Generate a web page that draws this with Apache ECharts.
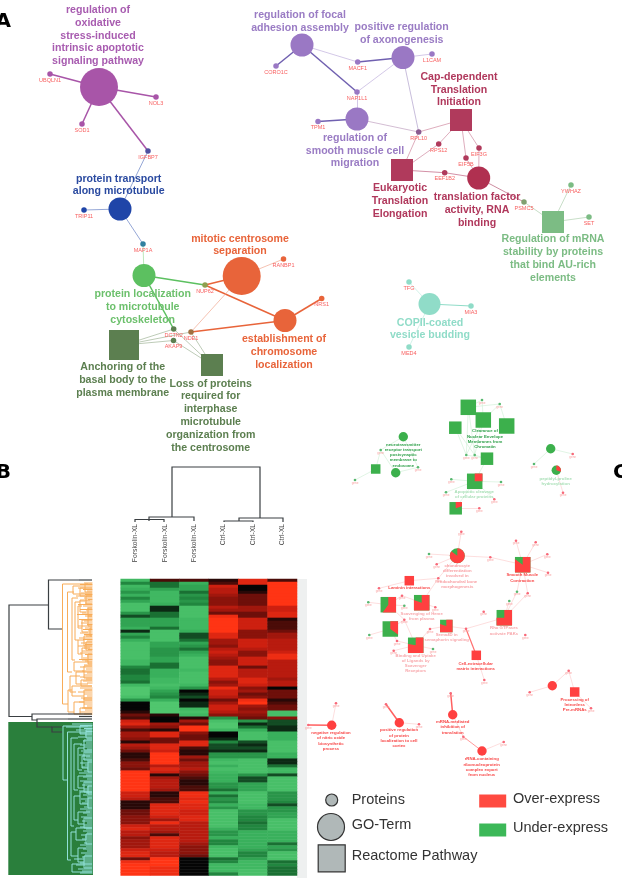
<!DOCTYPE html>
<html><head><meta charset="utf-8">
<style>html,body{margin:0;padding:0;background:#fff;overflow:hidden}#c{width:622px;height:878px;filter:blur(0.45px)}</style>
<script src="https://cdn.jsdelivr.net/npm/echarts@6/dist/echarts.min.js"></script>
</head><body><div id="c"></div>
<script>
// ---------- Panel B heatmap ----------
const sampleLabels = ['Forskolin-XL','Forskolin-XL','Forskolin-XL','Ctrl-XL','Ctrl-XL','Ctrl-XL'];
const forskolin1 = [-8,-4,-8,-7,-5,-7,-4,-6,-9,-9,-9,-5,-2,-6,-6,-6,-7,-1,-6,-4,-7,-9,-9,-9,-9,-9,-9,-8,-8,-4,-3,-3,-4,
-4,-3,-8,-10,-10,-10,-9,-5,0,0,0,1,3,2,7,8,5,2,5,5,4,1,6,5,3,1,1,2,4,4,3,10,10,
10,10,10,10,10,7,7,6,1,1,1,3,3,4,4,4,7,8,6,6,4,5,5,5,7,8,8,3,9,10,10,10,10];
const forskolin2 = [2,-3,-3,-6,-8,-8,-8,-8,-7,-1,-1,-3,-3,-6,-6,-6,-3,-9,-9,-9,-9,-6,-6,-5,-5,-5,-6,-6,-3,-3,-7,-7,-7,
-8,-8,-9,-8,-6,-5,-4,-7,-10,-10,-10,-10,1,0,0,5,4,1,8,8,3,3,8,8,7,10,10,10,10,6,8,7,1,
5,6,6,6,5,1,1,2,2,8,8,8,8,7,5,9,6,6,5,2,8,8,8,8,7,6,6,10,10,10,9,9,9];
const forskolin3 = [2,-7,-6,-6,-3,-5,-4,-5,-4,-9,-9,-9,-9,-8,-8,-8,-8,-7,-2,-2,-3,-6,-5,-3,-6,-7,-9,-9,-9,-9,-8,-9,-9,
-9,-9,-8,-5,0,-1,-2,0,-1,-1,-8,-9,-8,1,5,3,10,10,4,3,3,8,8,2,1,1,5,3,5,5,6,4,3,
2,1,1,2,2,9,9,8,9,8,8,7,7,8,8,6,6,6,6,6,6,6,5,4,4,4,3,0,0,0,0,0,0];
const ctrl1 = [1,2,7,6,6,5,4,4,4,6,5,3,9,10,10,10,10,10,8,8,5,5,4,6,7,6,5,4,4,8,8,8,8,
6,4,5,9,7,7,6,3,5,7,7,6,4,-5,-9,-10,-10,-8,0,0,-1,-4,-2,-2,-1,-5,-5,-8,-9,-7,-9,-8,-7,
-7,-7,-5,-5,-3,-7,-3,-5,-4,-7,-5,-9,-9,-9,-9,-9,-9,-7,-5,-5,-7,-4,-4,-8,-9,-9,-9,-3,-4,-8,-8,-8,-4];
const ctrl2 = [8,8,0,0,1,3,3,3,3,5,5,3,3,7,7,7,7,4,4,4,7,7,7,6,4,4,7,7,7,3,6,6,6,
8,8,7,4,5,3,4,9,10,5,4,5,4,3,-5,-1,-3,-7,-9,-9,-9,-2,-1,-2,-1,-5,-5,-9,-9,-9,-9,-9,-5,
-2,-2,-6,-6,-6,-9,-9,-9,-9,-8,-8,-5,-5,-4,-4,-3,-4,-4,-7,-7,-7,-7,-7,-7,-6,-4,-4,-6,-8,-8,-8,-9,-9];
const ctrl3 = [2,10,10,10,10,10,10,10,10,7,7,8,8,1,2,2,2,3,5,5,6,6,6,6,7,9,9,6,6,6,6,6,6,
5,6,6,0,3,3,3,1,2,3,3,-9,-9,4,-2,-2,-1,-1,-7,-7,-7,-9,-9,-9,-9,-7,-7,-1,-1,-3,-8,-8,-2,
-9,-9,-9,-9,-9,-5,-5,-5,-4,-2,-5,-5,-6,-6,-9,-9,-9,-9,-7,-7,-7,-7,-3,-6,-5,-9,-9,-9,-3,-4,-3,-3,-3];

// ---------- Dendrograms: [branch x, y1, y2, end x1, end x2] ----------
const orangeBranches = [
[62.5,584,704,88,68],[67.5,592,672,74,72],[72,598,660,78,75],[75,602,640,80,78],[78,606,628,82,82],
[80,600,612,90,86],[86,596,604,92,92],[88,608,616,92,92],[82,620,632,92,88],[88,616,626,92,92],
[90,628,636,92,92],[78,640,654,84,82],[84,636,646,92,92],[82,648,660,90,88],[88,654,664,92,92],
[74,662,671,92,84],[84,666,678,92,92],[68,690,712,72,74],[72,686,696,92,84],[84,690,700,92,92],
[74,702,714,84,80],[84,698,708,92,92],[80,708,714,92,92],[70,676,692,80,76],[76,672,684,92,88],
[80,588,596,92,92],[73,586,594,86,92],[85,584,592,92,92],[81,680,686,92,92],[86,642,650,92,92]];
const orangeLeaves = [ // y, start x
[583,84],[584.5,80],[586,86],[588,78],[589.5,83],[591,87],[593,81],[594.5,85],[596,76],[598,84],[599.5,88],[601,80],[603,85],[604.5,78],[606,83],[608,87],
[609.5,80],[611,86],[613,82],[614.5,77],[616,85],[618,88],[619.5,79],[621,84],[623,81],[624.5,87],[626,78],[628,85],[629.5,83],[631,88],[633,80],[634.5,84],
[636,86],[638,79],[639.5,83],[641,87],[643,81],[644.5,85],[646,78],[648,84],[649.5,88],[651,82],[653,80],[654.5,85],[656,87],[658,83],[659.5,79],[661,85],
[663,88],[665,84],[667,80],[669,86],[671,82],[673,87],[675,84],[677,80],[679,86],[681,83],[683,87],[688,80],[690,85],[692,78],[694,84],[696,87],[698,81],
[700,85],[702,79],[704,84],[706,87],[708,82],[710,85],[712,80],[714,84]];
const cyanBranches = [
[63,726,780,88,68],[67.5,732,860,92,71],[71,738,826,78,74],[74,744,790,82,78],[78,748,770,84,82],
[84,740,750,92,92],[82,756,768,90,88],[88,762,772,92,92],[78,776,788,92,84],[84,782,792,92,92],
[74,796,820,80,78],[80,792,804,92,88],[88,798,808,92,92],[78,812,824,90,84],[84,818,828,92,92],
[71,832,856,76,78],[76,828,840,92,86],[86,834,844,92,92],[78,848,862,86,84],[84,856,868,92,92],
[72,864,872,92,92],[80,726,734,92,92],[86,730,738,92,92],[84,752,760,92,92],[88,786,794,92,92]];
const cyanLeaves = [ // y, start x
[724,72],[725.5,80],[727,66],[728.5,84],[730,76],[731.5,86],[733,80],[735,85],[737,78],[739,87],[741,83],[743,86],[745,80],[747,84],[749,87],[751,81],
[753,85],[755,79],[757,86],[759,83],[761,87],[763,80],[765,85],[767,82],[769,87],[771,84],[773,79],[775,86],[777,83],[779,87],[781,80],[783,85],
[785,82],[787,87],[789,84],[791,79],[793,86],[795,83],[797,87],[799,81],[801,85],[803,82],[805,87],[807,84],[809,80],[811,86],[813,83],[815,87],
[817,81],[819,85],[821,82],[823,87],[825,84],[827,80],[829,86],[831,83],[833,87],[835,81],[837,85],[839,82],[841,87],[843,84],[845,80],[847,86],
[849,83],[851,87],[853,81],[855,85],[857,82],[859,74],[861,84],[863,80],[865,76],[867,85],[869,78],[871,82],[873,80]];
const blackBranches = [
[9,605,716.5,48.5,32],[48.5,580,629,79,62],[32,714,720,68,37],[37,719,727,68,52],[52,727,732,62,62]];
const heavyStubs = [ // dark stubs beside the heat map
[[79,580],[92,580]],[[68,714],[92,714]],[[68,719],[92,719]],[[79,716.5],[92,716.5]]];
const sampleTree = [ // polylines above the heat map
[[172,517],[172,467],[260,467],[260,518]],
[[149,521],[149,517],[194,517],[194,521]],
[[135,522],[135,519.5],[164,519.5],[164,522]],
[[239,521],[239,518],[283,518],[283,522]],
[[224,522],[224,521],[253,521],[253,522]]];

// ---------- Panel A network ----------
const purple='#a855a8',blue='#1f45a8',lilac='#9a78c4',crimson='#b03a5c',sage='#7cbc84',orange='#e8643a',leaf='#5cc060',moss='#5c7f50',mint='#90dcc8';
const termsA = [ // id, x, y, size, shape, colour
['oxi',99,87,38,'circle',purple],['trans',120,209,23,'circle',blue],['focal',302,45,23,'circle',lilac],
['axon',403,57.5,23,'circle',lilac],['smooth',357,119,23,'circle',lilac],['cap',461,120,22,'rect',crimson],
['euk',402,170,22,'rect',crimson],['tf',478.7,178,23,'circle','#b03050'],['mrna',553,222,22,'rect',sage],
['mitotic',241.7,276,38,'circle',orange],['estab',285,320.5,23,'circle',orange],['ploc',144,275.5,23,'circle',leaf],
['anchor',124,345,30,'rect',moss],['loss',212,365,22,'rect',moss],['copii',429.5,304,22,'circle',mint]];
const proteinsA = [ // label, x, y, colour
['UBQLN1',50,74,purple],['SOD1',82,124,purple],['NOL3',156,97,purple],['IGFBP7',148,151,'#5050a0'],['TRIP11',84,210,blue],
['MAP1A',143,244,'#3080a0'],['CORO1C',276,66,lilac],['MACF1',357.7,62,lilac],['NAP1L1',357,92,lilac],['L1CAM',432,54,lilac],
['TPM1',318,121.5,lilac],['RPL10',418.7,132,'#8a5a90'],['RPS12',438.7,144,crimson],['EIF3G',479,148,crimson],['EIF5B',466,158,crimson],
['EEF1B2',444.7,172.7,crimson],['PSMC5',524,202,'#80a070'],['YWHAZ',571,185,sage],['SET',589,217,sage],['NUP62',205,285,'#90a050'],
['RANBP1',283.5,259,orange],['NRS1',321.7,298.5,orange],['DCTN2',173.7,329,moss],['NDE1',191,332,'#a07040'],['AKAP9',173.5,340.5,moss],
['TFG',409,282,mint],['MIA3',471,306,mint],['MED4',409,347,mint]];
const edgesA = [ // from, to, width, colour
['oxi','UBQLN1',1.5,purple],['oxi','SOD1',1.5,purple],['oxi','NOL3',1.5,purple],['oxi','IGFBP7',1.5,purple],
['IGFBP7','trans',0.8,'#7a90cc'],['trans','TRIP11',0.8,'#7a90cc'],['trans','MAP1A',0.8,'#7a90cc'],['MAP1A','ploc',0.7,'#a0dca0'],
['ploc','NUP62',1.5,leaf],['ploc','DCTN2',1.5,leaf],['NUP62','mitotic',1.5,orange],['NUP62','estab',1.5,orange],
['mitotic','NDE1',0.7,'#f0a890'],['mitotic','RANBP1',0.7,'#f0a890'],['NDE1','estab',1.5,orange],['estab','NRS1',1.5,orange],
['anchor','DCTN2',0.7,'#a0b498'],['anchor','NDE1',0.7,'#a0b498'],['anchor','AKAP9',0.7,'#a0b498'],
['loss','DCTN2',0.7,'#a0b498'],['loss','NDE1',0.7,'#a0b498'],['loss','AKAP9',0.7,'#a0b498'],
['focal','CORO1C',1.5,'#7060b0'],['focal','MACF1',0.7,'#c0b0dc'],['focal','NAP1L1',1.5,'#7060b0'],['axon','MACF1',1.5,'#7060b0'],
['axon','NAP1L1',0.7,'#c0b0dc'],['axon','L1CAM',0.7,'#c0b0dc'],['axon','RPL10',0.7,'#b0a0cc'],['NAP1L1','smooth',0.7,'#c0b0dc'],
['smooth','TPM1',1.5,'#7060b0'],['smooth','RPL10',0.7,'#c0a0c0'],['RPL10','cap',0.7,'#d08aa0'],['RPL10','euk',0.7,'#d08aa0'],
['cap','RPS12',0.7,'#d08aa0'],['RPS12','euk',0.7,'#d08aa0'],['cap','EIF5B',0.7,'#d08aa0'],['cap','EIF3G',0.7,'#d08aa0'],
['EIF5B','tf',0.7,'#d08aa0'],['EIF3G','tf',0.7,'#d08aa0'],['euk','EEF1B2',0.7,'#c06080'],['EEF1B2','tf',0.7,'#c06080'],
['tf','PSMC5',0.8,'#c07088'],['PSMC5','mrna',0.7,'#b0d0b0'],['mrna','YWHAZ',0.7,'#b0d0b0'],['mrna','SET',0.7,'#b0d0b0'],
['copii','TFG',0.7,'#c0ece0'],['copii','MIA3',1.2,mint],['copii','MED4',0.7,'#c0ece0']];
const termLabels = [ // text, x, y, colour
['regulation of\noxidative\nstress-induced\nintrinsic apoptotic\nsignaling pathway',98,35.7,'#a85cb0'],
['protein transport\nalong microtubule',118.7,185,'#2a4aa0'],
['regulation of focal\nadhesion assembly',300,21.3,'#9a7cc4'],
['positive regulation\nof axonogenesis',401.7,33.8,'#9a7cc4'],
['Cap-dependent\nTranslation\nInitiation',459,89.7,'#b0385c'],
['regulation of\nsmooth muscle cell\nmigration',355,150.7,'#9a7cc4'],
['Eukaryotic\nTranslation\nElongation',400,201,'#b0385c'],
['translation factor\nactivity, RNA\nbinding',477,210,'#b0385c'],
['Regulation of mRNA\nstability by proteins\nthat bind AU-rich\nelements',553,258.5,'#7cbc84'],
['mitotic centrosome\nseparation',240,245,'#e8643a'],
['protein localization\nto microtubule\ncytoskeleton',142.7,307.3,'#6cc06c'],
['establishment of\nchromosome\nlocalization',284,352,'#e8643a'],
['Anchoring of the\nbasal body to the\nplasma membrane',122.7,380,'#5c7f50'],
['Loss of proteins\nrequired for\ninterphase\nmicrotubule\norganization from\nthe centrosome',210.7,415.7,'#5c7f50'],
['COPII-coated\nvesicle budding',430,329,'#90dcc8']];

// ---------- Panel C network ----------
const cGreen='#3cb04c',cRed='#ff4040';
const termsC = [ // id, x, y, size, shape, share of red (0 green, 1 red)
['s1',468.3,407.3,15.5,'rect',0],['s2',483.3,420,15.5,'rect',0],['s3',506.7,426,15.5,'rect',0],['s4',455.3,427.7,12.5,'rect',0],
['s5',487,458.7,12.5,'rect',0],['s6',474.7,481.3,15.5,'rect',0.25],['s7',455.7,508.3,12.5,'rect',0.2],['s8',375.7,469,9.5,'rect',0],
['g1',403.3,436.7,9.4,'circle',0],['g2',395.7,472.7,9.4,'circle',0],['g3',550.7,448.7,9.4,'circle',0],['g4',556.3,470.3,9.4,'circle',0.3],
['g5',457.3,555.7,15,'circle',0.85],['s9',522.7,564.7,15.5,'rect',0.85],['s10',409.3,580.7,9.5,'rect',1],['s11',388.3,604.7,15.5,'rect',0.6],
['s12',421.7,602.7,15.5,'rect',0.8],['s13',390.3,629,15.5,'rect',0.35],['s14',415.7,645.3,15.5,'rect',0.78],['s15',446.3,626,12.5,'rect',0.8],
['s16',504.3,617.7,15.5,'rect',0.75],['s17',476.3,655.3,9.5,'rect',1],['g6',331.7,725.3,9.4,'circle',1],['g7',399.3,722.7,9.4,'circle',1],
['g8',452.7,714.7,9.4,'circle',1],['g9',482,751,9.4,'circle',1],['g10',552.3,685.7,9.4,'circle',1],['s18',574.7,692,9.5,'rect',1]];
const genesC = [ // id, x, y, red or green
['a',482,400,0],['b',499.7,404,0],['c',466.3,455,0],['d',474.7,455,0],['e',380.7,450,0],['f',418,467.3,0],['h',355,480,0],['i',451.3,479.3,0],
['j',501,482,0],['k',446,492.3,0],['l',494.3,499.3,1],['m',479.3,508.3,1],['n',534,464,0],['o',572.7,454,1],['p',563,492.7,1],
['q',461.3,531.7,1],['r',429,554,0],['t',436.7,564.3,1],['u',490.3,557.3,1],['v',516,540.7,1],['w',535.7,542.3,1],['x',547.3,554.3,1],['y',548,572.7,1],
['z',517,591.7,0],['aa',527.7,593.3,1],['ab',509.3,601,0],['ac',483.7,611.7,1],['ad',525.3,635,1],['ae',466,628.7,1],['af',438.3,578.3,1],['ag',379,588.3,1],
['ah',402,595.7,1],['ai',368.3,602.3,0],['aj',404.3,605.7,0],['ak',435.3,607.3,1],['al',404.3,619.7,1],['am',369.3,635,0],['an',397,641,1],['ao',393.7,650.7,1],
['ap',433,649,0],['aq',430,629,1],['ar',484.3,680,1],['as',568.7,670.7,1],['at',529.7,692.3,1],['au',591,708.3,1],['av',336,703.3,1],['aw',308.3,725,1],
['ax',386,704.3,1],['ay',419,724.3,1],['az',450.7,693.3,1],['ba',463.3,736.7,1],['bb',503.7,742,1]];
const thinG='#cdeed4',thinR='#fcc8c8';
const edgesC = [ // from, to, width, colour
['s1','a',0.6,thinG],['s1','b',0.6,thinG],['s1','c',0.6,thinG],['s1','d',0.6,thinG],['s2','a',0.6,thinG],['s2','b',0.6,thinG],['s2','c',0.6,thinG],['s2','d',0.6,thinG],
['s3','b',0.6,thinG],['s4','c',0.6,thinG],['s4','d',0.6,thinG],['s5','c',0.6,thinG],['s5','d',0.6,thinG],['e','g1',0.6,thinG],['e','s8',0.6,thinG],['e','g2',0.6,thinG],
['f','g1',0.6,thinG],['f','g2',0.6,thinG],['h','s8',0.6,thinG],['s6','i',0.6,thinG],['s6','j',0.6,thinG],['s6','k',0.6,thinG],['s6','l',0.6,thinG],['s6','s7',0.6,thinG],
['s7','m',0.6,thinR],['g3','n',0.6,thinG],['g3','o',0.6,thinG],['g4','p',0.6,thinR],['s6','s5',0.6,thinG],
['g5','q',0.6,thinR],['g5','r',0.6,thinR],['g5','t',0.6,thinR],['g5','u',0.6,thinR],['u','s9',0.6,thinR],['s9','v',0.6,thinR],['s9','w',0.6,thinR],['s9','x',0.6,thinR],['s9','y',0.6,thinR],
['s9','z',0.6,thinR],['s9','aa',0.6,thinR],['aa','s16',0.6,thinR],['z','s16',0.6,thinR],['s16','ab',0.6,thinR],['s16','ae',0.6,thinR],['ae','s15',0.6,thinR],['ae','s17',1.2,'#ff7070'],['s17','ar',0.6,thinR],
['af','s10',0.6,thinR],['af','g5',0.6,thinR],['af','s12',0.6,thinR],['s10','ag',0.6,thinR],['s11','ah',0.6,thinR],['s11','ai',0.6,thinR],['s11','aj',0.6,thinR],['s12','ah',0.6,thinR],['s12','ak',0.6,thinR],
['s11','al',0.6,thinR],['s13','al',0.6,thinR],['s13','am',0.6,thinR],['s13','an',0.6,thinR],['s14','al',0.6,thinR],['s14','an',0.6,thinR],['s14','ao',0.6,thinR],['s14','ap',0.6,thinR],['s14','aq',0.6,thinR],['s15','aq',0.6,thinR],
['g10','at',0.6,thinR],['g10','as',0.6,thinR],['as','s18',0.6,thinR],['s18','au',0.6,thinR],['g6','av',0.6,thinR],['g6','aw',1.5,'#ff6060'],['g7','ax',1.5,'#ff6060'],['g7','ay',0.6,thinR],
['g8','az',1.5,'#ff6060'],['g8','ba',0.8,thinR],['ba','g9',0.8,'#ff8080'],['g9','bb',0.6,thinR]];
const labelsC = [ // text, x, y, colour
['Clearance of\nNuclear Envelope\nMembranes from\nChromatin',485,439,'#2fa04a'],
['neurotransmitter\nreceptor transport\npostsynaptic\nmembrane to\nendosome',403.3,455,'#2fa04a'],
['Apoptotic cleavage\nof cellular proteins',474.3,494.3,'#a8dfb6'],
['peptidyl-proline\nhydroxylation',555.7,481,'#a8dfb6'],
['chondrocyte\ndifferentiation\ninvolved in\nendochondral bone\nmorphogenesis',457.3,576.3,'#f8a0a4'],
['Smooth Muscle\nContraction',522.3,577.7,'#f84848'],
['Laminin interactions',409.3,588.3,'#f84848'],
['Scavenging of Heme\nfrom plasma',421.7,616,'#f8a8ac'],
['Sema4D in\nsemaphorin signaling',446.7,637.3,'#f8a8ac'],
['Rho GTPases\nactivate PAKs',504,630.7,'#f8a8ac'],
['Binding and Uptake\nof Ligands by\nScavenger\nReceptors',415.7,663.3,'#f8a8ac'],
['Cell-extracellular\nmatrix interactions',475.7,666,'#f84848'],
['negative regulation\nof nitric oxide\nbiosynthetic\nprocess',331,740.7,'#f84848'],
['positive regulation\nof protein\nlocalization to cell\ncortex',399,738,'#f84848'],
['mRNA-mediated\ninhibition of\ntranslation',452.7,727.3,'#f84848'],
['rRNA-containing\nribonucleoprotein\ncomplex export\nfrom nucleus',481.7,767,'#f84848'],
['Processing of\nIntronless\nPre-mRNAs',574.7,704.7,'#f84848']];

// ---------- Legend and panel letters ----------
const legendShapes = [['Proteins',331.7,800,12,'circle',351.7,800],['GO-Term',331,827,27,'circle',351.7,825],['Reactome Pathway',331.7,858.3,27,'rect',351.7,856]];
const legendColours = [['Over-express',492.7,801,'#ff4a40',513,799],['Under-express',492.7,830,'#3cb858',513,828]];
const panelLetters = [['A',11,22,'right'],['B',11,473,'right'],['C',613,473,'left']];
const panelBlocks = [ // x0, y0, x1, y1, colour
[297,579,307,878,'#eef0f0'],[8.3,722,93,875,'#2a7f3c']];

// ---------- Build ----------
function brk(b){return {coords:[[b[3],b[1]],[b[0],b[1]],[b[0],b[2]],[b[4],b[2]]]};}
function leafLine(l){return {coords:[[l[1],l[0]],[92.5,l[0]]]};}
const nodes=[],links=[],pies=[];
termsA.forEach(t=>nodes.push({name:t[0],value:[t[1],t[2]],symbol:t[4],symbolSize:t[3],itemStyle:{color:t[5]},label:{show:false}}));
proteinsA.forEach(p=>nodes.push({name:p[0],value:[p[1],p[2]],symbol:'circle',symbolSize:5.5,itemStyle:{color:p[3]},
  label:{show:true,position:'bottom',distance:0.5,fontSize:5.5,color:'#f86060',fontFamily:'Liberation Sans'}}));
termsC.forEach(t=>{nodes.push({name:t[0],value:[t[1],t[2]],symbol:t[4],symbolSize:t[3],itemStyle:{color:t[5]===1?cRed:cGreen},label:{show:false}});
  if(t[5]>0&&t[5]<1)pies.push([t[1],t[2],t[3],t[4]==='rect'?1:0,t[5]]);});
genesC.forEach(g=>nodes.push({name:g[0],value:[g[1],g[2]],symbol:'circle',symbolSize:2.6,itemStyle:{color:g[3]?'#f86878':'#58b870'},
  label:{show:true,position:'bottom',distance:0,fontSize:3,color:'#f8a0a0',fontFamily:'Liberation Sans',formatter:'gene'}}));
edgesA.concat(edgesC).forEach(e=>links.push({source:e[0],target:e[1],lineStyle:{width:e[2],color:e[3],opacity:1,curveness:0}}));
const heat=[];
[forskolin1,forskolin2,forskolin3,ctrl1,ctrl2,ctrl3].forEach((col,x)=>col.forEach((v,y)=>heat.push([x,y,v])));
function text(list,size,weight,lh){return list.map(l=>({value:[l[1],l[2]],label:{formatter:l[0],color:l[3],fontSize:size,fontWeight:weight,lineHeight:lh,align:'center',verticalAlign:'middle'}}));}
const textData=[].concat(
 text(termLabels,10.6,'bold',12.8), text(labelsC,4.3,'bold',5.3),
 legendShapes.map(l=>({value:[l[5],l[6]],label:{formatter:l[0],color:'#333',fontSize:14.5,align:'left',verticalAlign:'middle'}})),
 legendColours.map(l=>({value:[l[4],l[5]],label:{formatter:l[0],color:'#333',fontSize:14.5,align:'left',verticalAlign:'middle'}})),
 panelLetters.map(l=>({value:[l[1],l[2]],label:{formatter:l[0],color:'#000',fontSize:20,fontWeight:'bold',align:l[3],verticalAlign:'middle',fontFamily:'DejaVu Sans'}})));

const hiddenValue={show:false,type:'value',gridIndex:0};
const option={
 animation:false,backgroundColor:'#fff',
 textStyle:{fontFamily:'Liberation Sans'},
 grid:[{left:0,top:0,width:622,height:878,containLabel:false},{left:120.7,top:579,width:176.3,height:296.5,containLabel:false}],
 xAxis:[Object.assign({},hiddenValue,{min:0,max:622}),
  {type:'category',gridIndex:1,position:'top',data:sampleLabels.map((s,i)=>({value:s+' '.repeat(i%3)})),axisLine:{show:false},axisTick:{show:false},splitLine:{show:false},
   axisLabel:{interval:0,rotate:-90,align:'right',verticalAlign:'middle',margin:55,fontSize:6.8,color:'#444',formatter:v=>v.trim()}}],
 yAxis:[Object.assign({},hiddenValue,{min:0,max:878,inverse:true}),
  {type:'category',gridIndex:1,inverse:true,data:forskolin1.map((_,i)=>String(i)),show:false}],
 visualMap:{show:false,seriesIndex:1,min:-10,max:10,inRange:{color:['#50c66e','#36ae5a','#1c7c38','#050505','#7a100a','#c81e10','#ff3414']}},
 series:[
  {type:'custom',z:1,silent:true,coordinateSystem:'cartesian2d',xAxisIndex:0,yAxisIndex:0,data:panelBlocks,encode:{x:[0,2],y:[1,3]},
   renderItem:(p,api)=>{const d=panelBlocks[p.dataIndex],a=api.coord([d[0],d[1]]),b=api.coord([d[2],d[3]]);
    return {type:'rect',shape:{x:a[0],y:a[1],width:b[0]-a[0],height:b[1]-a[1]},style:{fill:d[4]}};}},
  {type:'heatmap',z:2,xAxisIndex:1,yAxisIndex:1,data:heat,silent:true,progressive:0},
  {type:'lines',z:3,silent:true,coordinateSystem:'cartesian2d',xAxisIndex:0,yAxisIndex:0,polyline:true,
   data:orangeBranches.map(brk).concat(orangeLeaves.map(leafLine)),lineStyle:{color:'#f8ac58',width:1,opacity:1}},
  {type:'lines',z:3,silent:true,coordinateSystem:'cartesian2d',xAxisIndex:0,yAxisIndex:0,polyline:true,
   data:cyanBranches.map(brk).concat(cyanLeaves.map(leafLine)),lineStyle:{color:'#90e0d8',width:1,opacity:1}},
  {type:'lines',z:3,silent:true,coordinateSystem:'cartesian2d',xAxisIndex:0,yAxisIndex:0,polyline:true,
   data:blackBranches.map(brk).concat(sampleTree.map(c=>({coords:c}))).concat(heavyStubs.map(c=>({coords:c}))),lineStyle:{color:'#3a3f42',width:1.2,opacity:1}},
  {type:'graph',z:4,silent:true,coordinateSystem:'cartesian2d',xAxisIndex:0,yAxisIndex:0,layout:'none',roam:false,nodeScaleRatio:0,data:nodes,links:links,edgeSymbol:['none','none'],itemStyle:{opacity:1},labelLayout:{hideOverlap:false}},
  {type:'custom',z:5,silent:true,coordinateSystem:'cartesian2d',xAxisIndex:0,yAxisIndex:0,data:pies,encode:{x:0,y:1},
   renderItem:(p,api)=>{const d=pies[p.dataIndex],c=api.coord([d[0],d[1]]),h=d[2]/2,start=-Math.PI/2,end=start+2*Math.PI*d[4];
    const sec={type:'sector',shape:{cx:c[0],cy:c[1],r:d[3]?h*1.6:h,r0:0,startAngle:start,endAngle:end,clockwise:true},style:{fill:cRed}};
    if(d[3])sec.clipPath={type:'rect',shape:{x:c[0]-h,y:c[1]-h,width:2*h,height:2*h}};
    return sec;}},
  {type:'scatter',z:5,silent:true,xAxisIndex:0,yAxisIndex:0,itemStyle:{opacity:1},
   data:legendShapes.map(l=>({value:[l[1],l[2]],symbol:l[4],symbolSize:l[3],itemStyle:{color:'#b0b8b8',borderColor:'#333',borderWidth:1.2,opacity:1}}))
    .concat(legendColours.map(l=>({value:[l[1],l[2]],symbol:'rect',symbolSize:[27,13],itemStyle:{color:l[3],opacity:1}})))},
  {type:'scatter',z:6,silent:true,xAxisIndex:0,yAxisIndex:0,symbolSize:1,itemStyle:{color:'transparent',opacity:1},label:{show:true,position:'inside',opacity:1},labelLayout:{hideOverlap:false},data:textData}
 ]};
const chart=echarts.init(document.getElementById('c'),null,{renderer:'canvas',width:622,height:878});
chart.setOption(option);
</script></body></html>
